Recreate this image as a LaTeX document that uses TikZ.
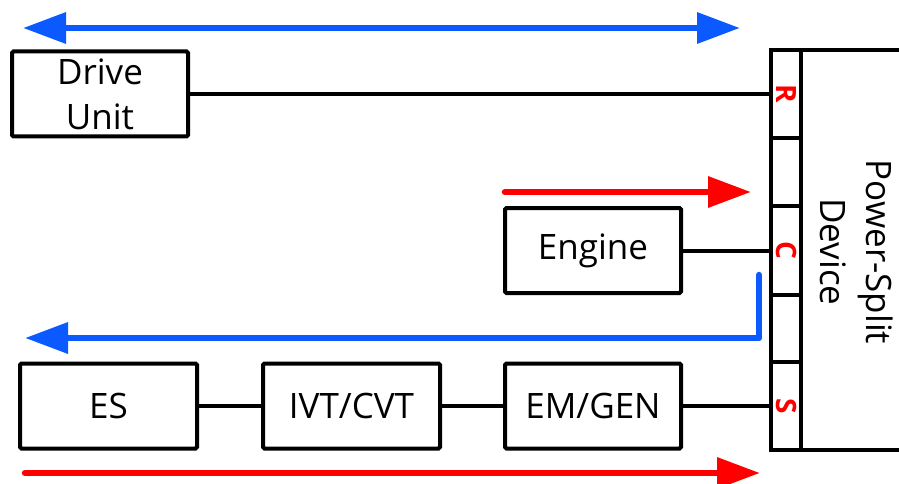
\documentclass[tikz,border=0pt]{standalone}
\usepackage{fontspec}
\setmainfont{Open Sans}
\usetikzlibrary{arrows.meta}
\definecolor{flowblue}{RGB}{10,90,255}
\definecolor{flowred}{RGB}{255,0,0}

\begin{document}
\begin{tikzpicture}[x=1pt,y=-1pt,
  flowtip/.tip={Triangle[length=43pt,width=30pt]},
  unit/.style={draw, line width=4pt, rounded corners=1.5pt, minimum width=176pt,
    minimum height=85pt, inner sep=0pt, align=center,
    font=\fontsize{35}{45}\selectfont},
  port/.style={draw, line width=4pt, minimum width=30pt, inner sep=0pt,
    text=flowred, font=\fontsize{28}{28}\selectfont\bfseries},
  link/.style={line width=4pt},
  flow/.style={line width=6.5pt, line cap=round, line join=round}]
\useasboundingbox (0,0) rectangle (899,484);
\clip (0,0) rectangle (899,484);
% power-split device
\draw[line width=4pt] (801,50) rectangle (920,450);
\node[rotate=-90, align=center, font=\fontsize{35}{46}\selectfont] (psdtext) at (857,252) {Power-Split\\Device};
\node[port, minimum height=88pt] (portR) at (786,94) {\rotatebox{-90}{R}};
\node[port, minimum height=68pt] (gapA) at (786,172) {};
\node[port, minimum height=89pt] (portC) at (786,250.5) {\rotatebox{-90}{C}};
\node[port, minimum height=67pt] (gapB) at (786,328.5) {};
\node[port, minimum height=88pt] (portS) at (786,406) {\rotatebox{-90}{S}};
% units
\node[unit] (drive) at (100,94) {Drive\\Unit};
\node[unit] (engine) at (593,250.5) {Engine};
\node[unit, minimum width=177pt] (es) at (108.5,406) {ES};
\node[unit, minimum width=177pt] (ivt) at (351.5,406) {IVT/CVT};
\node[unit] (emgen) at (593,406) {EM/GEN};
\draw[link] (drive.east) -- (portR.west);
\draw[link] (engine.east) -- (portC.west);
\draw[link] (es) -- (ivt);
\draw[link] (ivt) -- (emgen);
\draw[link] (emgen.east) -- (portS.west);
% power flows
\coordinate (topL) at (23,28);
\coordinate (topR) at (740,28);
\coordinate (engL) at (505,192);
\coordinate (engR) at (751,192);
\coordinate (genT) at (759,275);
\coordinate (genB) at (759,338);
\coordinate (genL) at (25,338);
\coordinate (botL) at (25,473);
\coordinate (botR) at (760,473);
\draw[flow, flowblue, flowtip-flowtip] (topL) -- (topR);
\draw[flow, flowred, -flowtip] (engL) -- (engR);
\draw[flow, flowblue, -flowtip] (genT) -- (genB) -- (genL);
\draw[flow, flowred, -flowtip] (botL) -- (botR);
\end{tikzpicture}
\end{document}
